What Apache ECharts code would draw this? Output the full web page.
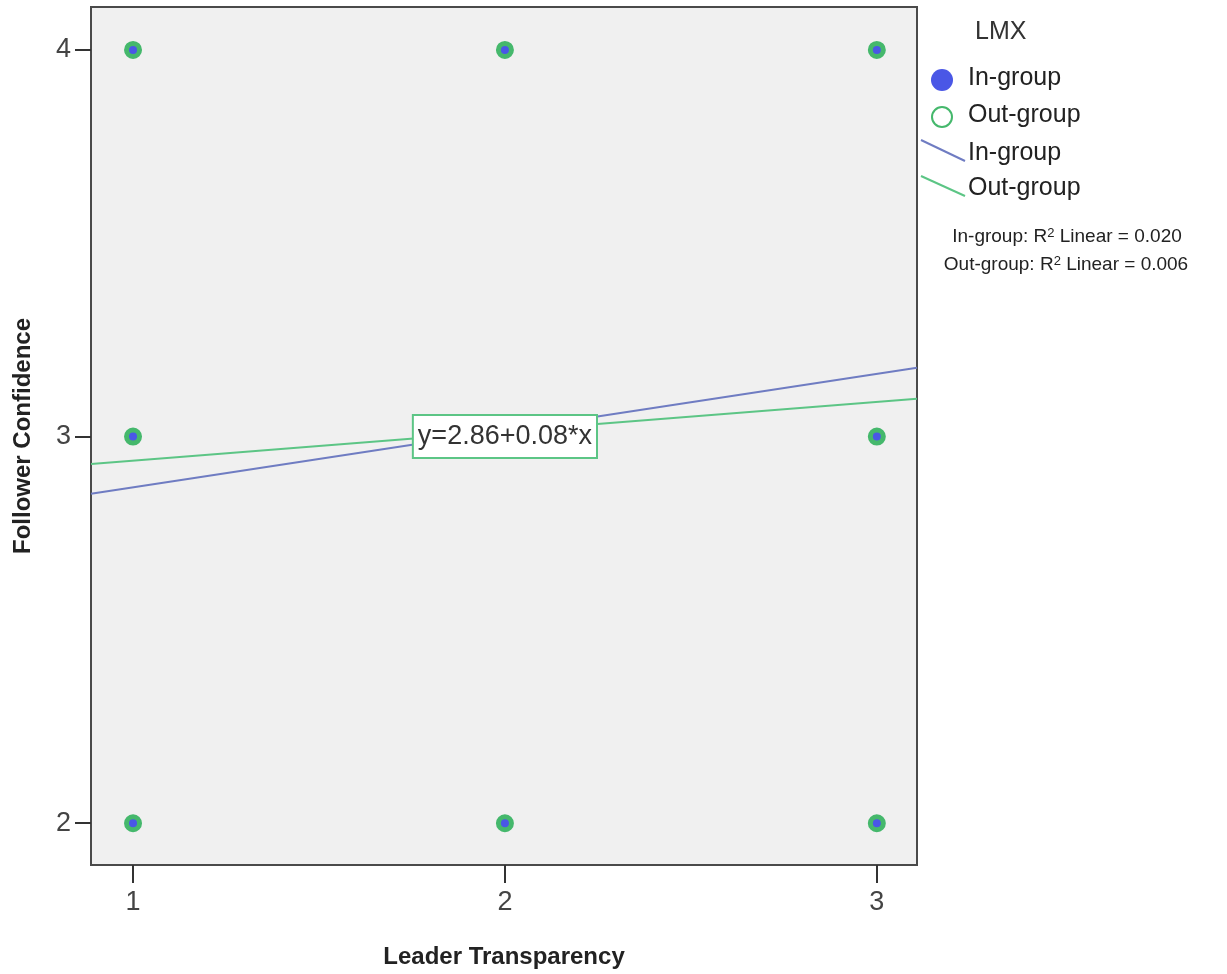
<!DOCTYPE html>
<html><head><meta charset="utf-8">
<script src="https://cdn.jsdelivr.net/npm/echarts@6/dist/echarts.min.js"></script>
<style>html,body{margin:0;padding:0;background:#fff}#c{width:1227px;height:974px}</style>
</head><body><div id="c"></div>
<script>
// Data
const xTicks = [1, 2, 3];
const yTicks = [2, 3, 4];
const inGroupPoints = [[1,4],[2,4],[3,4],[1,3],[3,3],[1,2],[2,2],[3,2]];
const outGroupPoints = [[1,4],[2,4],[3,4],[1,3],[3,3],[1,2],[2,2],[3,2]];
const inGroupFit = [[0.887, 2.852], [3.108, 3.178]];
const outGroupFit = [[0.887, 2.929], [3.108, 3.098]];
const fitLabel = 'y=2.86+0.08*x';
const fitLabelPos = [[2, 3]];
const r2Labels = ['In-group: R{s|2} Linear = 0.020', 'Out-group: R{s|2} Linear = 0.006'];

const FONT = '"Liberation Sans", Arial, sans-serif';
const BLUE = '#4a57e6';
const GREEN = '#45b86c';
const BLUE_LINE = '#6f7cc2';
const GREEN_LINE = '#5cc585';

const chart = echarts.init(document.getElementById('c'));
chart.setOption({
  animation: false,
  backgroundColor: '#fff',
  grid: { left: 91, right: 310, top: 7, bottom: 104, show: true,
          backgroundColor: '#f0f0f0', borderColor: '#4a4a4a', borderWidth: 2 },
  xAxis: {
    type: 'value', min: 0.887, max: 3.108,
    splitLine: { show: false },
    axisLine: { show: true, onZero: false, lineStyle: { color: '#4a4a4a', width: 2 } },
    axisTick: { show: true, inside: false, length: 18, customValues: xTicks, lineStyle: { color: '#333', width: 2 } },
    axisLabel: { customValues: xTicks, fontSize: 27, color: '#444', fontFamily: FONT, margin: 24 },
    name: 'Leader Transparency', nameLocation: 'middle', nameGap: 80,
    nameTextStyle: { fontSize: 24, fontWeight: 'bold', color: '#222', fontFamily: FONT }
  },
  yAxis: {
    type: 'value', min: 1.892, max: 4.111,
    splitLine: { show: false },
    axisLine: { show: true, onZero: false, lineStyle: { color: '#4a4a4a', width: 2 } },
    axisTick: { show: true, inside: false, length: 16, customValues: yTicks, lineStyle: { color: '#333', width: 2 } },
    axisLabel: { customValues: yTicks, fontSize: 27, color: '#444', fontFamily: FONT, margin: 20 },
    name: 'Follower Confidence', nameLocation: 'middle', nameGap: 56, nameRotate: 90,
    nameTextStyle: { fontSize: 24, fontWeight: 'bold', color: '#222', fontFamily: FONT }
  },
  series: [
    { name: 'In-group', type: 'scatter', data: inGroupPoints, symbol: 'circle', symbolSize: 16,
      itemStyle: { color: BLUE, opacity: 1 }, z: 2 },
    { name: 'Out-group', type: 'scatter', data: outGroupPoints, symbol: 'circle', symbolSize: 13,
      itemStyle: { color: 'rgba(0,0,0,0)', borderColor: GREEN, borderWidth: 5, opacity: 1 }, z: 3 },
    { name: 'In-group fit', type: 'line', data: inGroupFit, showSymbol: false, symbol: 'none',
      lineStyle: { color: BLUE_LINE, width: 2 }, z: 4 },
    { name: 'Out-group fit', type: 'line', data: outGroupFit, showSymbol: false, symbol: 'none',
      lineStyle: { color: GREEN_LINE, width: 2 }, z: 5 },
    { name: 'Fit label', type: 'scatter', data: fitLabelPos, symbolSize: 1, silent: true, z: 20,
      itemStyle: { color: 'rgba(0,0,0,0)', opacity: 1 },
      label: { show: true, position: 'inside', formatter: fitLabel, fontSize: 27, color: '#333',
          fontFamily: FONT, backgroundColor: '#fff', borderColor: GREEN_LINE, borderWidth: 2,
          padding: [7, 4, 7, 4], opacity: 1 } }
  ],
  graphic: [
    { type: 'text', left: 975, top: 20, style: { text: 'LMX', fontSize: 25, fill: '#333', fontFamily: FONT } },
    { type: 'circle', shape: { cx: 942, cy: 80, r: 11 }, style: { fill: BLUE } },
    { type: 'text', left: 968, top: 66, style: { text: 'In-group', fontSize: 25, fill: '#222', fontFamily: FONT } },
    { type: 'circle', shape: { cx: 942, cy: 117, r: 10 }, style: { fill: '#fff', stroke: GREEN, lineWidth: 2 } },
    { type: 'text', left: 968, top: 103, style: { text: 'Out-group', fontSize: 25, fill: '#222', fontFamily: FONT } },
    { type: 'line', shape: { x1: 921, y1: 140, x2: 965, y2: 161 }, style: { stroke: BLUE_LINE, lineWidth: 2 } },
    { type: 'text', left: 968, top: 141, style: { text: 'In-group', fontSize: 25, fill: '#222', fontFamily: FONT } },
    { type: 'line', shape: { x1: 921, y1: 176, x2: 965, y2: 196 }, style: { stroke: GREEN_LINE, lineWidth: 2 } },
    { type: 'text', left: 968, top: 176, style: { text: 'Out-group', fontSize: 25, fill: '#222', fontFamily: FONT } },
    { type: 'text', x: 1067, y: 237, style: { text: r2Labels[0], align: 'center', verticalAlign: 'middle',
        fontSize: 19, fill: '#222', fontFamily: FONT, rich: { s: { fontSize: 13, verticalAlign: 'top', padding: [0,0,8,0], fill: '#222' } } } },
    { type: 'text', x: 1066, y: 265, style: { text: r2Labels[1], align: 'center', verticalAlign: 'middle',
        fontSize: 19, fill: '#222', fontFamily: FONT, rich: { s: { fontSize: 13, verticalAlign: 'top', padding: [0,0,8,0], fill: '#222' } } } }
  ]
});
</script></body></html>
